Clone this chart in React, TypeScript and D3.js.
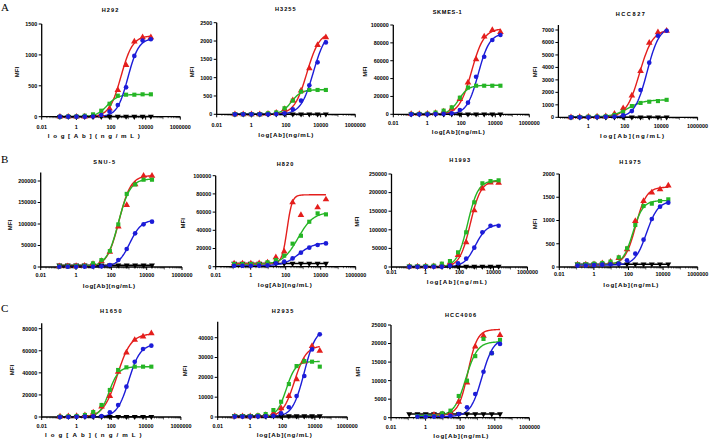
import React from 'react';
import * as d3 from 'd3';

// ---------- data ----------
const concentrations = [0.113, 0.339, 1.016, 3.05, 9.14, 27.4, 82.3, 247, 741, 2222, 6667, 20000];
const xTickValues = [0.01, 1, 100, 10000, 1000000];
const xTickLabels = ['0.01', '1', '100', '10000', '1000000'];
const panelNames = ['H292', 'H3255', 'SKMES-1', 'HCC827', 'SNU-5', 'H820', 'H1993', 'H1975', 'H1650', 'H2935', 'HCC4006'];
const rowLetters = ['A', 'B', 'C'];
const xTitle = 'log[Ab](ng/mL)';
const yTitle = 'MFI';

// fits: [bottom, top, EC50, hill]
const h292Red = [0, 0, 0, 2, 8, 25, 130, 432, 837, 1215, 1285, 1285];
const h292Blue = [0, 0, 0, 0, 3, 27, 81, 189, 475, 983, 1231, 1253];
const h292Green = [0, 5, 5, 16, 38, 97, 210, 340, 356, 356, 362, 362];
const h292Black = [2, 2, 2, 2, 2, 2, 3, 3, 4, 3, 4, 5];
const h292Fits = [[0, 1310, 380, 1.3], [0, 1270, 950, 1.4], [0, 360, 60, 1.4], [3, 3, 1, 1]];
const h292Ticks = [0, 500, 1000, 1500];

const h3255Red = [0, 0, 0, 0, 10, 40, 140, 380, 645, 1254, 1890, 2100];
const h3255Blue = [0, 0, 0, 0, 0, 5, 27, 136, 373, 791, 1418, 1963];
const h3255Green = [0, 0, 0, 0, 27, 50, 164, 373, 618, 664, 664, 664];
const h3255Black = [3, 3, 3, 3, 3, 3, 3, 3, 4, 4, 5, 5];
const h3255Fits = [[0, 2250, 1600, 1.2], [0, 2300, 3800, 1.2], [0, 670, 200, 1.5], [4, 4, 1, 1]];
const h3255Ticks = [0, 500, 1000, 1500, 2000, 2500];

const skmesRed = [300, 300, 500, 1500, 3000, 6500, 17000, 35400, 61500, 87000, 94400, 92100];
const skmesBlue = [0, 0, 0, 200, 500, 1100, 4850, 13000, 42100, 64500, 83200, 88800];
const skmesGreen = [400, 400, 700, 1900, 4100, 7800, 18600, 30000, 32000, 32000, 32000, 32000];
const skmesBlack = [200, 200, 200, 200, 200, 200, 200, 200, 200, 200, 200, 200];
const skmesFits = [[0, 96000, 400, 1.2], [0, 91000, 1000, 1.3], [0, 32500, 70, 1.5], [200, 200, 1, 1]];
const skmesTicks = [0, 20000, 40000, 60000, 80000, 100000];

const hcc827Red = [0, 20, 40, 60, 80, 270, 720, 1735, 3711, 5980, 6808, 6940];
const hcc827Blue = [0, 0, 0, 20, 40, 60, 150, 500, 2190, 4380, 6540, 6940];
const hcc827Green = [0, 20, 50, 60, 80, 190, 450, 900, 1150, 1250, 1300, 1400];
const hcc827Black = [10, 10, 10, 10, 10, 10, 10, 10, 10, 10, 10, 10];
const hcc827Fits = [[0, 7050, 650, 1.2], [0, 7300, 1700, 1.3], [20, 1400, 150, 1.0], [10, 10, 1, 1]];
const hcc827Ticks = [0, 1000, 2000, 3000, 4000, 5000, 6000, 7000];

const snu5Red = [1500, 1500, 2000, 2500, 7000, 14000, 35000, 94000, 144000, 192000, 212000, 212000];
const snu5Blue = [500, 500, 500, 800, 1000, 1500, 4600, 16300, 41800, 78300, 99200, 105400];
const snu5Green = [1500, 1500, 2000, 2500, 8500, 16000, 37000, 99000, 170000, 192000, 203000, 203000];
const snu5Black = [4000, 4000, 4000, 4000, 4000, 4000, 4000, 4000, 4000, 4000, 4000, 4000];
const snu5Fits = [[1000, 213000, 270, 1.3], [500, 110000, 1100, 1.3], [1000, 205000, 250, 1.3], [4000, 4000, 1, 1]];
const snu5Ticks = [0, 50000, 100000, 150000, 200000];

const h820Red = [3500, 3500, 3500, 3800, 4500, 10200, 16500, 70600, 56700, null, 65100, 73900];
const h820Blue = [1000, 1000, 1000, 1200, 1500, 3700, 5500, 9100, 15400, 20900, 23800, 25600];
const h820Green = [2900, 2900, 2900, 2900, 4800, 7300, 12100, 25300, 34000, 49400, 58600, 57500];
const h820Black = [3500, 3500, 3500, 3500, 3500, 3500, 3500, 3500, 3500, 3500, 3500, 3500];
const h820Fits = [[3500, 79000, 120, 3.0], [1000, 26500, 550, 1.0], [2500, 60000, 500, 1.0], [3500, 3500, 1, 1]];
const h820Ticks = [0, 20000, 40000, 60000, 80000, 100000];

const h1993Red = [1000, 1000, 1500, 2000, 5000, 12000, 32000, 66300, 152000, 211000, 227000, 226000];
const h1993Blue = [500, 500, 500, 800, 1000, 3600, 9900, 22400, 52000, 93200, 111000, 111000];
const h1993Green = [1800, 1800, 2700, 3600, 9000, 16000, 39400, 93200, 173800, 225000, 231000, 233000];
const h1993Black = [1500, 1500, 1500, 1500, 1500, 1500, 1500, 1500, 1500, 1500, 1500, 1500];
const h1993Fits = [[0, 232000, 430, 1.4], [0, 115000, 850, 1.3], [0, 233000, 300, 1.4], [1500, 1500, 1, 1]];
const h1993Ticks = [0, 50000, 100000, 150000, 200000, 250000];

const h1975Red = [50, 50, 60, 80, 110, 190, 380, 990, 1420, 1600, 1670, 1750];
const h1975Blue = [30, 30, 40, 50, 60, 72, 143, 287, 588, 1032, 1298, 1384];
const h1975Green = [57, 57, 72, 86, 115, 208, 402, 903, 1312, 1362, 1420, 1455];
const h1975Black = [60, 60, 60, 60, 60, 60, 60, 60, 60, 60, 60, 60];
const h1975Fits = [[50, 1720, 260, 1.4], [40, 1420, 1100, 1.3], [50, 1430, 180, 1.5], [60, 60, 1, 1]];
const h1975Ticks = [0, 500, 1000, 1500, 2000];

const h1650Red = [300, 500, 800, 1500, 4000, 9400, 19000, 41000, 58300, 69800, 72800, 75800];
const h1650Blue = [0, 0, 200, 400, 600, 900, 4200, 10900, 27500, 50100, 61600, 64600];
const h1650Green = [300, 600, 900, 1800, 4500, 10900, 24500, 42600, 45000, 45600, 45600, 45600];
const h1650Black = [300, 300, 300, 300, 300, 300, 300, 300, 300, 300, 300, 300];
const h1650Fits = [[0, 75500, 220, 1.1], [0, 66000, 1000, 1.3], [0, 45500, 75, 1.6], [300, 300, 1, 1]];
const h1650Ticks = [0, 20000, 40000, 60000, 80000];

const h2935Red = [300, 300, 300, 500, 1000, 2000, 4400, 10600, 19000, 28000, 35800, 33400];
const h2935Blue = [200, 200, 200, 300, 400, 600, 1850, 4900, 10600, 20700, 34100, 41700];
const h2935Green = [500, 500, 500, 840, 1500, 3500, 7700, 16600, 25700, 28200, 27900, 25400];
const h2935Black = [500, 500, 500, 500, 500, 500, 500, 500, 500, 500, 500, 500];
const h2935Fits = [[0, 36000, 550, 1.2], [0, 45000, 2200, 1.2], [0, 28000, 170, 1.5], [500, 500, 1, 1]];
const h2935Ticks = [0, 10000, 20000, 30000, 40000];

const hcc4006Red = [null, null, null, 800, 900, 1200, 4300, 9500, 19200, 22100, null, 22300];
const hcc4006Blue = [null, 300, 300, 300, 400, 500, 1000, 2800, 6400, 12400, 17400, 19900];
const hcc4006Green = [null, 450, 450, 450, 1190, 1900, 5860, 10000, 16600, 21250, 17400, 21000];
const hcc4006Black = [1000, 1000, 1000, 1000, 1000, 1000, 1000, 1000, 1000, 1000, 1000, 1000];
const hcc4006Fits = [[800, 23800, 280, 1.6], [300, 21500, 1800, 1.3], [500, 20500, 210, 1.3], [1000, 1000, 1, 1]];
const hcc4006Ticks = [0, 5000, 10000, 15000, 20000, 25000];

const panelSeries = [
  [h292Red, h292Blue, h292Green, h292Black],
  [h3255Red, h3255Blue, h3255Green, h3255Black],
  [skmesRed, skmesBlue, skmesGreen, skmesBlack],
  [hcc827Red, hcc827Blue, hcc827Green, hcc827Black],
  [snu5Red, snu5Blue, snu5Green, snu5Black],
  [h820Red, h820Blue, h820Green, h820Black],
  [h1993Red, h1993Blue, h1993Green, h1993Black],
  [h1975Red, h1975Blue, h1975Green, h1975Black],
  [h1650Red, h1650Blue, h1650Green, h1650Black],
  [h2935Red, h2935Blue, h2935Green, h2935Black],
  [hcc4006Red, hcc4006Blue, hcc4006Green, hcc4006Black],
];
const panelFits = [h292Fits, h3255Fits, skmesFits, hcc827Fits, snu5Fits, h820Fits, h1993Fits, h1975Fits, h1650Fits, h2935Fits, hcc4006Fits];
const panelTicks = [h292Ticks, h3255Ticks, skmesTicks, hcc827Ticks, snu5Ticks, h820Ticks, h1993Ticks, h1975Ticks, h1650Ticks, h2935Ticks, hcc4006Ticks];
const panelYMax = [1500, 2500, 100000, 7400, 220000, 100000, 250000, 2000, 85000, 48000, 25000];

// ---------- layout (pixels) ----------
const layouts = [
  { x01: 41.7, x1e6: 180.3, xStart: 0.01, yBot: 116.7, yRef: 1500, yRefPx: 24, tX: 110, tY: 10, tW: 16.7, lY: 126.7, xtX: 93.8, xtY: 136, xtW: 92, mX: 17, mY: 72 },
  { x01: 216.7, x1e6: 355.3, xStart: 0.01, yBot: 114.3, yRef: 2500, yRefPx: 22.7, tX: 285.3, tY: 9.3, tW: 20.7, lY: 125, xtX: 285.8, xtY: 135, xtW: 55, mX: 192.3, mY: 72 },
  { x01: 393.3, x1e6: 529.3, xStart: 0.01, yBot: 114.3, yRef: 100000, yRefPx: 25, tX: 447.2, tY: 11.7, tW: 29, lY: 123.3, xtX: 458.3, xtY: 132.3, xtW: 53, mX: 365, mY: 71.7 },
  { x01: 551.8, x1e6: 697.6, xStart: 0.023, yBot: 117.3, yRef: 7000, yRefPx: 30, tX: 630.3, tY: 14, tW: 29.3, lY: 126, xtX: 632, xtY: 136, xtW: 64, mX: 535, mY: 72 },
  { x01: 40.7, x1e6: 182, xStart: 0.01, yBot: 267, yRef: 200000, yRefPx: 181, tX: 104.2, tY: 161.7, tW: 21.7, lY: 275, xtX: 108.8, xtY: 285.7, xtW: 52.3, mX: 10, mY: 225 },
  { x01: 215.7, x1e6: 355.7, xStart: 0.01, yBot: 266.7, yRef: 100000, yRefPx: 175.7, tX: 285, tY: 164, tW: 16.7, lY: 275, xtX: 284.7, xtY: 285, xtW: 54, mX: 183.3, mY: 223.3 },
  { x01: 391.5, x1e6: 527.5, xStart: 0.01, yBot: 267, yRef: 250000, yRefPx: 174, tX: 459.7, tY: 160, tW: 20.7, lY: 271.7, xtX: 456.7, xtY: 281.7, xtW: 60, mX: 356.7, mY: 221.7 },
  { x01: 559.3, x1e6: 697.7, xStart: 0.01, yBot: 267, yRef: 2000, yRefPx: 174, tX: 630, tY: 162.3, tW: 21.3, lY: 274.3, xtX: 630.8, xtY: 285, xtW: 55, mX: 535, mY: 224 },
  { x01: 41.7, x1e6: 180.9, xStart: 0.01, yBot: 417, yRef: 80000, yRefPx: 328.7, tX: 110.8, tY: 310.7, tW: 21.7, lY: 426, xtX: 93.3, xtY: 435.3, xtW: 96.7, mX: 11.7, mY: 370 },
  { x01: 217.7, x1e6: 347.3, xStart: 0.01, yBot: 417, yRef: 40000, yRefPx: 337.7, tX: 282.5, tY: 310.7, tW: 21.7, lY: 426, xtX: 284.2, xtY: 435.3, xtW: 55, mX: 185, mY: 371 },
  { x01: 391, x1e6: 529.4, xStart: 0.01, yBot: 417.7, yRef: 25000, yRefPx: 325, tX: 460.5, tY: 315, tW: 31, lY: 426.7, xtX: 460.8, xtY: 435.7, xtW: 55, mX: 358.3, mY: 371.7 },
];
const letterPos = [{ x: 1, y: 10.5 }, { x: 1, y: 162.5 }, { x: 1, y: 311.5 }];

// ---------- styles ----------
const colors = ['#e41e1c', '#1c1cd8', '#25b525', '#000000'];
const FONT = "'Liberation Sans', Arial, sans-serif";

function fourPL(p: number[], x: number) {
  const [b, t, ec, h] = p;
  return b + (t - b) / (1 + Math.pow(ec / x, h));
}

function Marker({ kind, cx, cy, color }: { kind: number; cx: number; cy: number; color: string }) {
  let path: string | null;
  let rot = 0;
  if (kind === 0) path = d3.symbol().type(d3.symbolTriangle).size(19)();
  else if (kind === 1) path = d3.symbol().type(d3.symbolCircle).size(17)();
  else if (kind === 2) path = d3.symbol().type(d3.symbolSquare).size(17)();
  else { path = d3.symbol().type(d3.symbolTriangle).size(15)(); rot = 180; }
  return <path d={path || ''} transform={`translate(${cx},${cy}) rotate(${rot})`} fill={color} />;
}

function Panel({ idx }: { idx: number }) {
  const L = layouts[idx];
  const x = d3.scaleLog().domain([0.01, 1e6]).range([L.x01, L.x1e6]);
  const y = d3.scaleLinear().domain([0, L.yRef]).range([L.yBot, L.yRefPx]);
  const yMax = panelYMax[idx];
  const x0 = x(L.xStart);
  const series = panelSeries[idx];
  const fits = panelFits[idx];
  const yTicks = panelTicks[idx];

  const minorTicks: { v: number; major: boolean }[] = [];
  for (let e = -2; e < 6; e++) {
    for (let m = 1; m < 10; m++) {
      const v = m * Math.pow(10, e);
      if (v < L.xStart * 0.999) continue;
      if (m === 1 && e % 2 === 0) continue;
      minorTicks.push({ v, major: m === 1 });
    }
  }

  const line = d3.line<[number, number]>().x((d) => x(d[0])).y((d) => y(d[1]));
  const order = [3, 0, 2, 1];

  return (
    <g>
      <text x={L.tX} y={L.tY} dy="0.35em" textAnchor="middle" fontFamily={FONT} fontWeight="bold" fontSize={5.6} textLength={L.tW} lengthAdjust="spacing">
        {panelNames[idx]}
      </text>
      {order.map((s) => {
        const pts = series[s];
        const firstI = pts.findIndex((v) => v !== null);
        const lo = Math.log10(concentrations[firstI]);
        const hi = Math.log10(concentrations[concentrations.length - 1]);
        const grid = d3.range(0, 101).map((k) => Math.pow(10, lo + ((hi - lo) * k) / 100));
        const data = grid.map((c) => [c, fourPL(fits[s], c)] as [number, number]);
        return <path key={'c' + s} d={line(data) || ''} fill="none" stroke={colors[s]} strokeWidth={1.4} />;
      })}
      <line x1={x0} x2={x(1e6)} y1={y(0)} y2={y(0)} stroke="#000" strokeWidth={1.3} />
      <line x1={x0} x2={x0} y1={y(0) + 0.65} y2={y(yMax)} stroke="#000" strokeWidth={1.3} />
      {xTickValues.map((v, i) =>
        v >= L.xStart * 0.999 ? (
          <g key={'xt' + i}>
            <line x1={x(v)} x2={x(v)} y1={y(0)} y2={y(0) + 3} stroke="#000" strokeWidth={1} />
            <text x={x(v)} y={L.lY} dy="0.35em" textAnchor="middle" fontFamily={FONT} fontWeight="bold" fontSize={5.4}>
              {xTickLabels[i]}
            </text>
          </g>
        ) : null
      )}
      {minorTicks.map((t, i) => (
        <line key={'mt' + i} x1={x(t.v)} x2={x(t.v)} y1={y(0)} y2={y(0) + (t.major ? 2.5 : 1.5)} stroke="#000" strokeWidth={0.6} />
      ))}
      {yTicks.map((v) => (
        <g key={'yt' + v}>
          <line x1={x0 - 3} x2={x0} y1={y(v)} y2={y(v)} stroke="#000" strokeWidth={1} />
          <text x={x0 - 4.5} y={y(v)} dy="0.35em" textAnchor="end" fontFamily={FONT} fontWeight="bold" fontSize={5.4}>
            {v}
          </text>
        </g>
      ))}
      <text x={L.xtX} y={L.xtY} dy="0.35em" textAnchor="middle" fontFamily={FONT} fontWeight="bold" fontSize={6.2} textLength={L.xtW} lengthAdjust="spacing">
        {xTitle}
      </text>
      <text transform={`translate(${L.mX},${L.mY}) rotate(-90)`} dy="0.35em" textAnchor="middle" fontFamily={FONT} fontWeight="bold" fontSize={6}>
        {yTitle}
      </text>
      {order.map((s) =>
        series[s].map((v, i) =>
          v === null ? null : <Marker key={'p' + s + '-' + i} kind={s} cx={x(concentrations[i])} cy={y(v)} color={colors[s]} />
        )
      )}
    </g>
  );
}

export default function App() {
  return (
    <svg width={713} height={439} style={{ position: 'absolute', left: 0, top: 0, background: '#fff' }}>
      <rect width={713} height={439} fill="#fff" />
      {rowLetters.map((l, i) => (
        <text key={l} x={letterPos[i].x} y={letterPos[i].y} fontFamily="'Liberation Serif', 'Times New Roman', serif" fontSize={11}>
          {l}
        </text>
      ))}
      {panelNames.map((_, i) => (
        <Panel key={i} idx={i} />
      ))}
    </svg>
  );
}
